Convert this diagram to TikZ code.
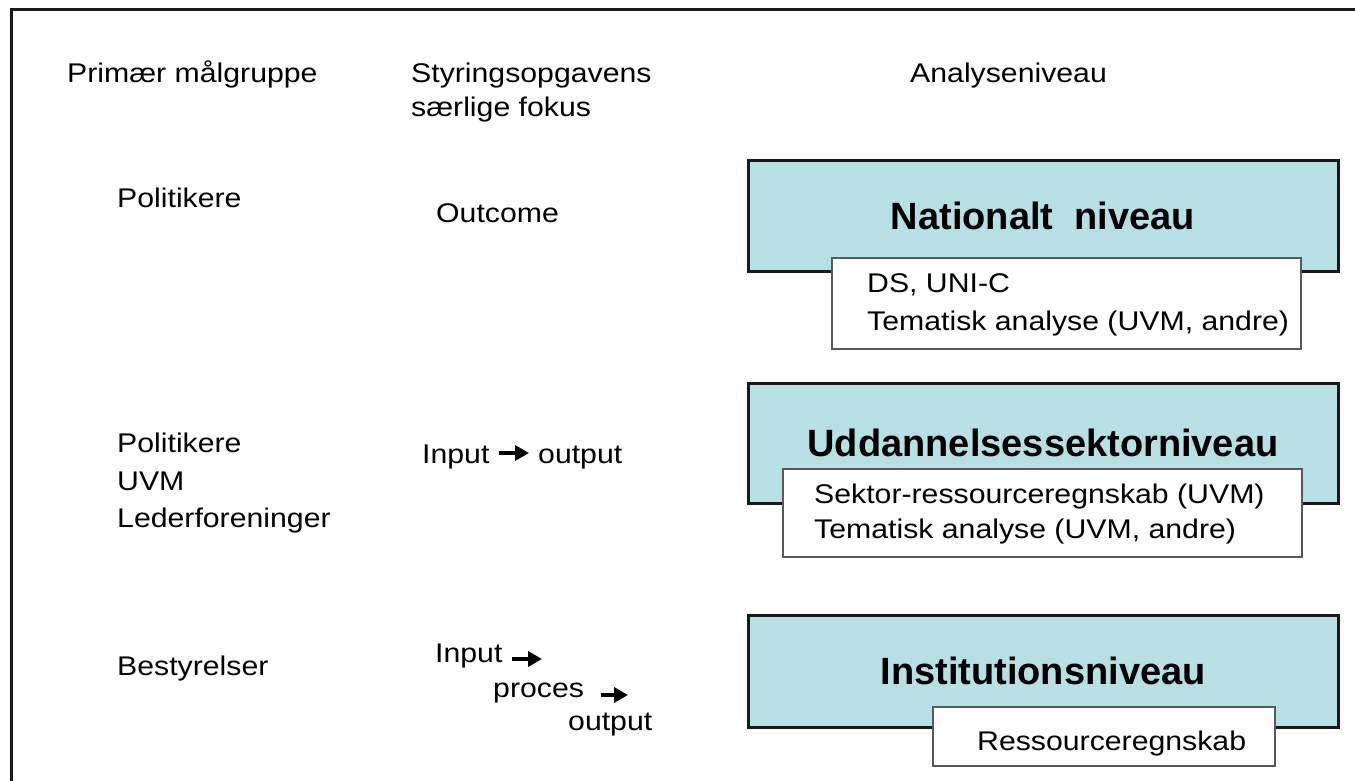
\documentclass[tikz,border=0pt]{standalone}
\usepackage{fontspec}
\setmainfont{Liberation Sans}
\newfontfamily\regf{Liberation Sans}[FakeStretch=1.12]
\usetikzlibrary{arrows.meta}
\definecolor{boxblue}{RGB}{183,223,228}
\tikzset{
  txt/.style={anchor=base west, inner sep=0pt, font=\regf\fontsize{27}{32}\selectfont},
  level/.style={draw=black!90, line width=3pt, fill=boxblue, minimum width=590pt,
    inner sep=0pt, font=\bfseries\fontsize{38}{44}\selectfont},
  info/.style={draw=black!65, line width=2pt, fill=white, inner sep=0pt},
  arr/.style={-{Triangle[length=14pt,width=15pt]}, line width=3.5pt},
  frame/.style={line width=3pt, draw=black!90}
}
\begin{document}
\begin{tikzpicture}[x=1pt,y=-1pt]
\useasboundingbox[fill=white] (0,0) rectangle (1355,781);
% frame
\draw[frame] (11,781) -- (11,10) -- (1355,10);
% headers
\node[txt] (h1) at (67,83) {Primær målgruppe};
\node[txt] (h2) at (411,83) {Styringsopgavens};
\node[txt] (h2b) at (411,117) {særlige fokus};
\node[txt] (h3) at (910,83) {Analyseniveau};
% row 1
\node[txt] (p1) at (117,207) {Politikere};
\node[txt] (o1) at (436,222) {Outcome};
\node[level, minimum height=110pt] (b1) at (1043,216) {Nationalt\ \ niveau};
\node[info, minimum width=469pt, minimum height=91pt] (w1) at (1066.5,303.5) {};
\node[txt] (t11) at (867,292) {DS, UNI-C};
\node[txt] (t12) at (867,330) {Tematisk analyse (UVM, andre)};
% row 2
\node[txt] (p2) at (117,452) {Politikere};
\node[txt] (u2) at (117,490) {UVM};
\node[txt] (l2) at (117,527) {Lederforeninger};
\node[txt] (in2) at (422,463) {Input};
\node[txt] (out2) at (538,463) {output};
\coordinate (a1s) at (499,453);
\coordinate (a1e) at (529,453);
\draw[arr] (a1s) -- (a1e);
\node[level, minimum height=120pt] (b2) at (1043,443) {Uddannelsessektorniveau};
\node[info, minimum width=519pt, minimum height=88pt] (w2) at (1042.5,513) {};
\node[txt] (t21) at (814,503) {Sektor-ressourceregnskab (UVM)};
\node[txt] (t22) at (814,538) {Tematisk analyse (UVM, andre)};
% row 3
\node[txt] (bs) at (117,675) {Bestyrelser};
\node[txt] (in3) at (435,662) {Input};
\node[txt] (pr3) at (493,697) {proces};
\node[txt] (out3) at (568,730) {output};
\coordinate (a2s) at (512,659);
\coordinate (a2e) at (542,659);
\coordinate (a3s) at (601,695);
\coordinate (a3e) at (628,695);
\draw[arr] (a2s) -- (a2e);
\draw[arr] (a3s) -- (a3e);
\node[level, minimum height=112pt] (b3) at (1043,671) {Institutionsniveau};
\node[info, minimum width=342pt, minimum height=59pt] (w3) at (1104,736.5) {};
\node[txt] (t31) at (977,750) {Ressourceregnskab};
\end{tikzpicture}
\end{document}
